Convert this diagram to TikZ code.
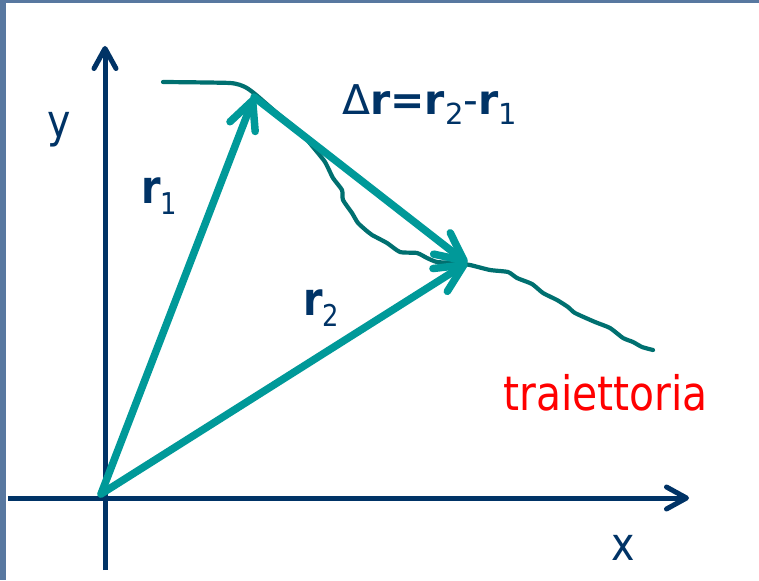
\documentclass[tikz,border=0pt]{standalone}
\usepackage{fontspec}
\setmainfont{DejaVu Sans}[FakeStretch=0.86]
\newfontfamily\widefont{DejaVu Sans}
\usetikzlibrary{arrows.meta}
\definecolor{navy}{RGB}{0,51,102}
\definecolor{vteal}{RGB}{0,153,153}
\definecolor{tteal}{RGB}{0,112,112}
\definecolor{frame}{RGB}{88,120,160}
\tikzset{
  axis/.style={draw=navy, line width=5pt, -{Straight Barb[length=20pt, width=22pt, round]}},
  vec/.style={draw=vteal, line width=7.5pt, line cap=round, -{Straight Barb[length=28pt, width=27pt, round]}},
  traj/.style={draw=tteal, line width=4.2pt, line cap=round, line join=round},
  lbl/.style={text=navy, inner sep=0pt, anchor=base west},
}
\begin{document}
\begin{tikzpicture}[x=1pt, y=-1pt]
\fill[frame] (0,0) rectangle (759,580);
\fill[white] (6,3) rectangle (759,580);
\useasboundingbox (0,0) rectangle (759,580);
% axes
\coordinate (xs) at (8,498);
\coordinate (xe) at (689,498);
\coordinate (ys) at (105,570);
\coordinate (ye) at (105,46);
\draw[axis] (xs) -- (xe);
\draw[axis] (ys) -- (ye);
% trajectory
\draw[traj] plot[smooth, tension=0.35] coordinates {
(163,82) (230,83) (245,87) (255,94) (277,113) (300,132) (313,147) (325,162)
(333,178) (342,190) (343,200) (352,213) (358,223) (368,232) (372,235)
(387,243) (400,252) (417,253) (427,258) (437,262) (455,263) (470,265)
(490,270) (508,272) (517,278) (532,284) (543,293) (557,300) (568,307)
(575,313) (595,322) (610,328) (623,338) (633,342) (642,347) (653,350)};
% vectors
\coordinate (O) at (101,494);
\coordinate (P1) at (254,97);
\coordinate (P2) at (467,263);
\draw[vec] (O) -- (P1);
\draw[vec] (O) -- (P2);
\draw[vec] (P1) -- (P2);
% labels
\node[lbl, font=\fontsize{46}{46}\selectfont] (ylab) at (47,138) {y};
\node[lbl, font=\fontsize{46}{46}\selectfont] (xlab) at (611,560) {x};
\node[lbl, font=\fontsize{46}{46}\selectfont] (r1) at (141,203) {\textbf{r}\raisebox{-11pt}{\fontsize{30}{30}\selectfont 1}};
\node[lbl, font=\fontsize{46}{46}\selectfont] (r2) at (303,315) {\textbf{r}\raisebox{-11pt}{\fontsize{30}{30}\selectfont 2}};
\node[lbl, font=\widefont\fontsize{41}{41}\selectfont] (dr) at (342,115) {Δ\textbf{r=r}\raisebox{-10pt}{\fontsize{29}{29}\selectfont 2}-\textbf{r}\raisebox{-10pt}{\fontsize{29}{29}\selectfont 1}};
\node[lbl, text=red, font=\fontsize{47.5}{47.5}\selectfont] (tr) at (503,410) {traiettoria};
\end{tikzpicture}
\end{document}
